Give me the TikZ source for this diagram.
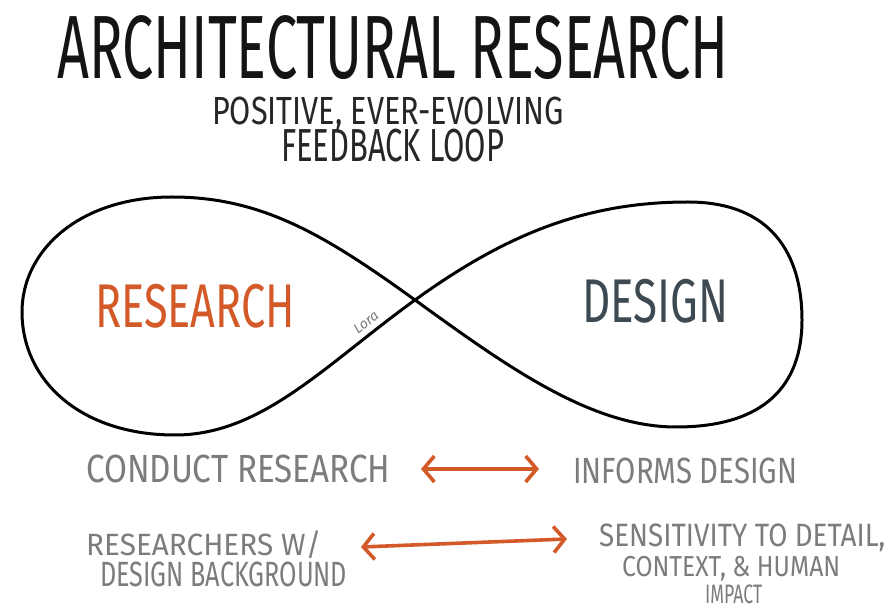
\documentclass[tikz,border=0pt]{standalone}
\usepackage{fontspec}
\usepackage{graphicx}
\setmainfont{Fira Sans}
\usetikzlibrary{arrows.meta}
\definecolor{rorange}{HTML}{D35A28}
\definecolor{dslate}{HTML}{3E4A52}
\definecolor{penGray}{HTML}{7C7C7C}
\newcommand\fitto[3]{\resizebox*{#1pt}{#2pt}{#3}}
\tikzset{
  txt/.style={inner sep=0pt, anchor=north west},
  loop/.style={line width=3pt, black},
  twoway/.style={line width=3.6pt, rorange, {Straight Barb[length=11pt,width=26pt]}-{Straight Barb[length=11pt,width=26pt]}}
}
\begin{document}
\begin{tikzpicture}[x=1pt,y=-1pt]
\useasboundingbox[fill=white] (0,0) rectangle (895,609);
% titles
\node[txt, text=black!92] (title) at (57,15) {\fitto{671}{64}{ARCHITECTURAL RESEARCH}};
\node[txt, text=black!85] (sub1) at (212,97) {\fitto{352}{34}{POSITIVE, EVER-EVOLVING}};
\node[txt, text=black!85] (sub2) at (281,129) {\fitto{223}{33}{FEEDBACK LOOP}};
% infinity loop
\coordinate (C) at (415,300);
\draw[loop] (C) .. controls (505,235) and (585,202) .. (688,202)
  .. controls (772,202) and (802,255) .. (802,320)
  .. controls (802,385) and (765,427) .. (676,427)
  .. controls (590,427) and (505,365) .. (C)
  .. controls (325,235) and (262,197) .. (172,197)
  .. controls (80,197) and (22,250) .. (22,312)
  .. controls (22,380) and (80,435) .. (175,435)
  .. controls (262,435) and (325,365) .. (C);
\node[txt, text=rorange] (research) at (95,284) {\fitto{200}{44}{RESEARCH}};
\node[txt, text=dslate] (design) at (582,279) {\fitto{146}{44}{DESIGN}};
\node[text=penGray, inner sep=0pt, rotate=38] (sig) at (366,322) {\fontsize{14}{14}\selectfont\itshape Lora};
% bottom statements
\node[txt, text=penGray] (conduct) at (86,455) {\fitto{304}{28}{CONDUCT RESEARCH}};
\node[txt, text=penGray] (informs) at (573,458) {\fitto{224}{26}{INFORMS DESIGN}};
\node[txt, text=penGray] (rsrch) at (86,530) {\fitto{235}{28}{RESEARCHERS W/}};
\node[txt, text=penGray] (dbg) at (100,562) {\fitto{247}{25}{DESIGN BACKGROUND}};
\node[txt, text=penGray] (sens) at (599,524) {\fitto{286}{28}{SENSITIVITY TO DETAIL,}};
\node[txt, text=penGray] (ctx) at (622,556) {\fitto{218}{25}{CONTEXT, \& HUMAN}};
\node[txt, text=penGray] (impact) at (705,585) {\fitto{57}{19}{IMPACT}};
% arrows
\coordinate (a1l) at (421,469);
\coordinate (a1r) at (539,469);
\coordinate (a2l) at (361,547);
\coordinate (a2r) at (567,539);
\draw[twoway] (a1l) -- (a1r);
\draw[twoway] (a2l) -- (a2r);
\end{tikzpicture}
\end{document}
